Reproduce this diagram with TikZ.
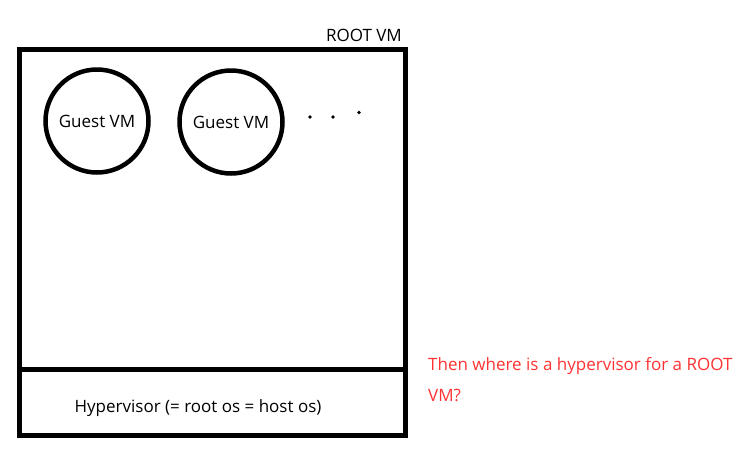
\documentclass[tikz,border=0pt]{standalone}
\usepackage{fontspec}
\setmainfont{Open Sans}
\usepackage{tikz}

\begin{document}
\begin{tikzpicture}[x=1pt,y=-1pt,
  guest/.style={draw,circle,line width=4.5pt,minimum size=103pt,inner sep=0pt,font=\fontsize{17}{20}\selectfont}]
\useasboundingbox (0,0) rectangle (738,461);
\draw [black, line width=5pt] (19.5,49) rectangle (405,435);
\draw [black, line width=5pt] (19.5,369) -- (405,369);
\node [anchor=base east,inner sep=0pt,font=\fontsize{17}{20}\selectfont] (root) at (402,41.5) {ROOT VM};
\node [guest] (g1) at (97,121) {Guest VM};
\node [guest] (g2) at (231,122) {Guest VM};
\fill (310,117) circle (1.8pt);
\fill (333,117) circle (1.8pt);
\fill (359,112.5) circle (1.8pt);
\node [anchor=base,inner sep=0pt,font=\fontsize{17}{20}\selectfont] (hv) at (198,412) {Hypervisor (= root os = host os)};
\node [anchor=north west,inner sep=0pt,align=left,text=red!80!white,
  font=\fontsize{17}{31}\selectfont] (q) at (428,357) {Then where is a hypervisor for a ROOT\\VM?};
\end{tikzpicture}
\end{document}
